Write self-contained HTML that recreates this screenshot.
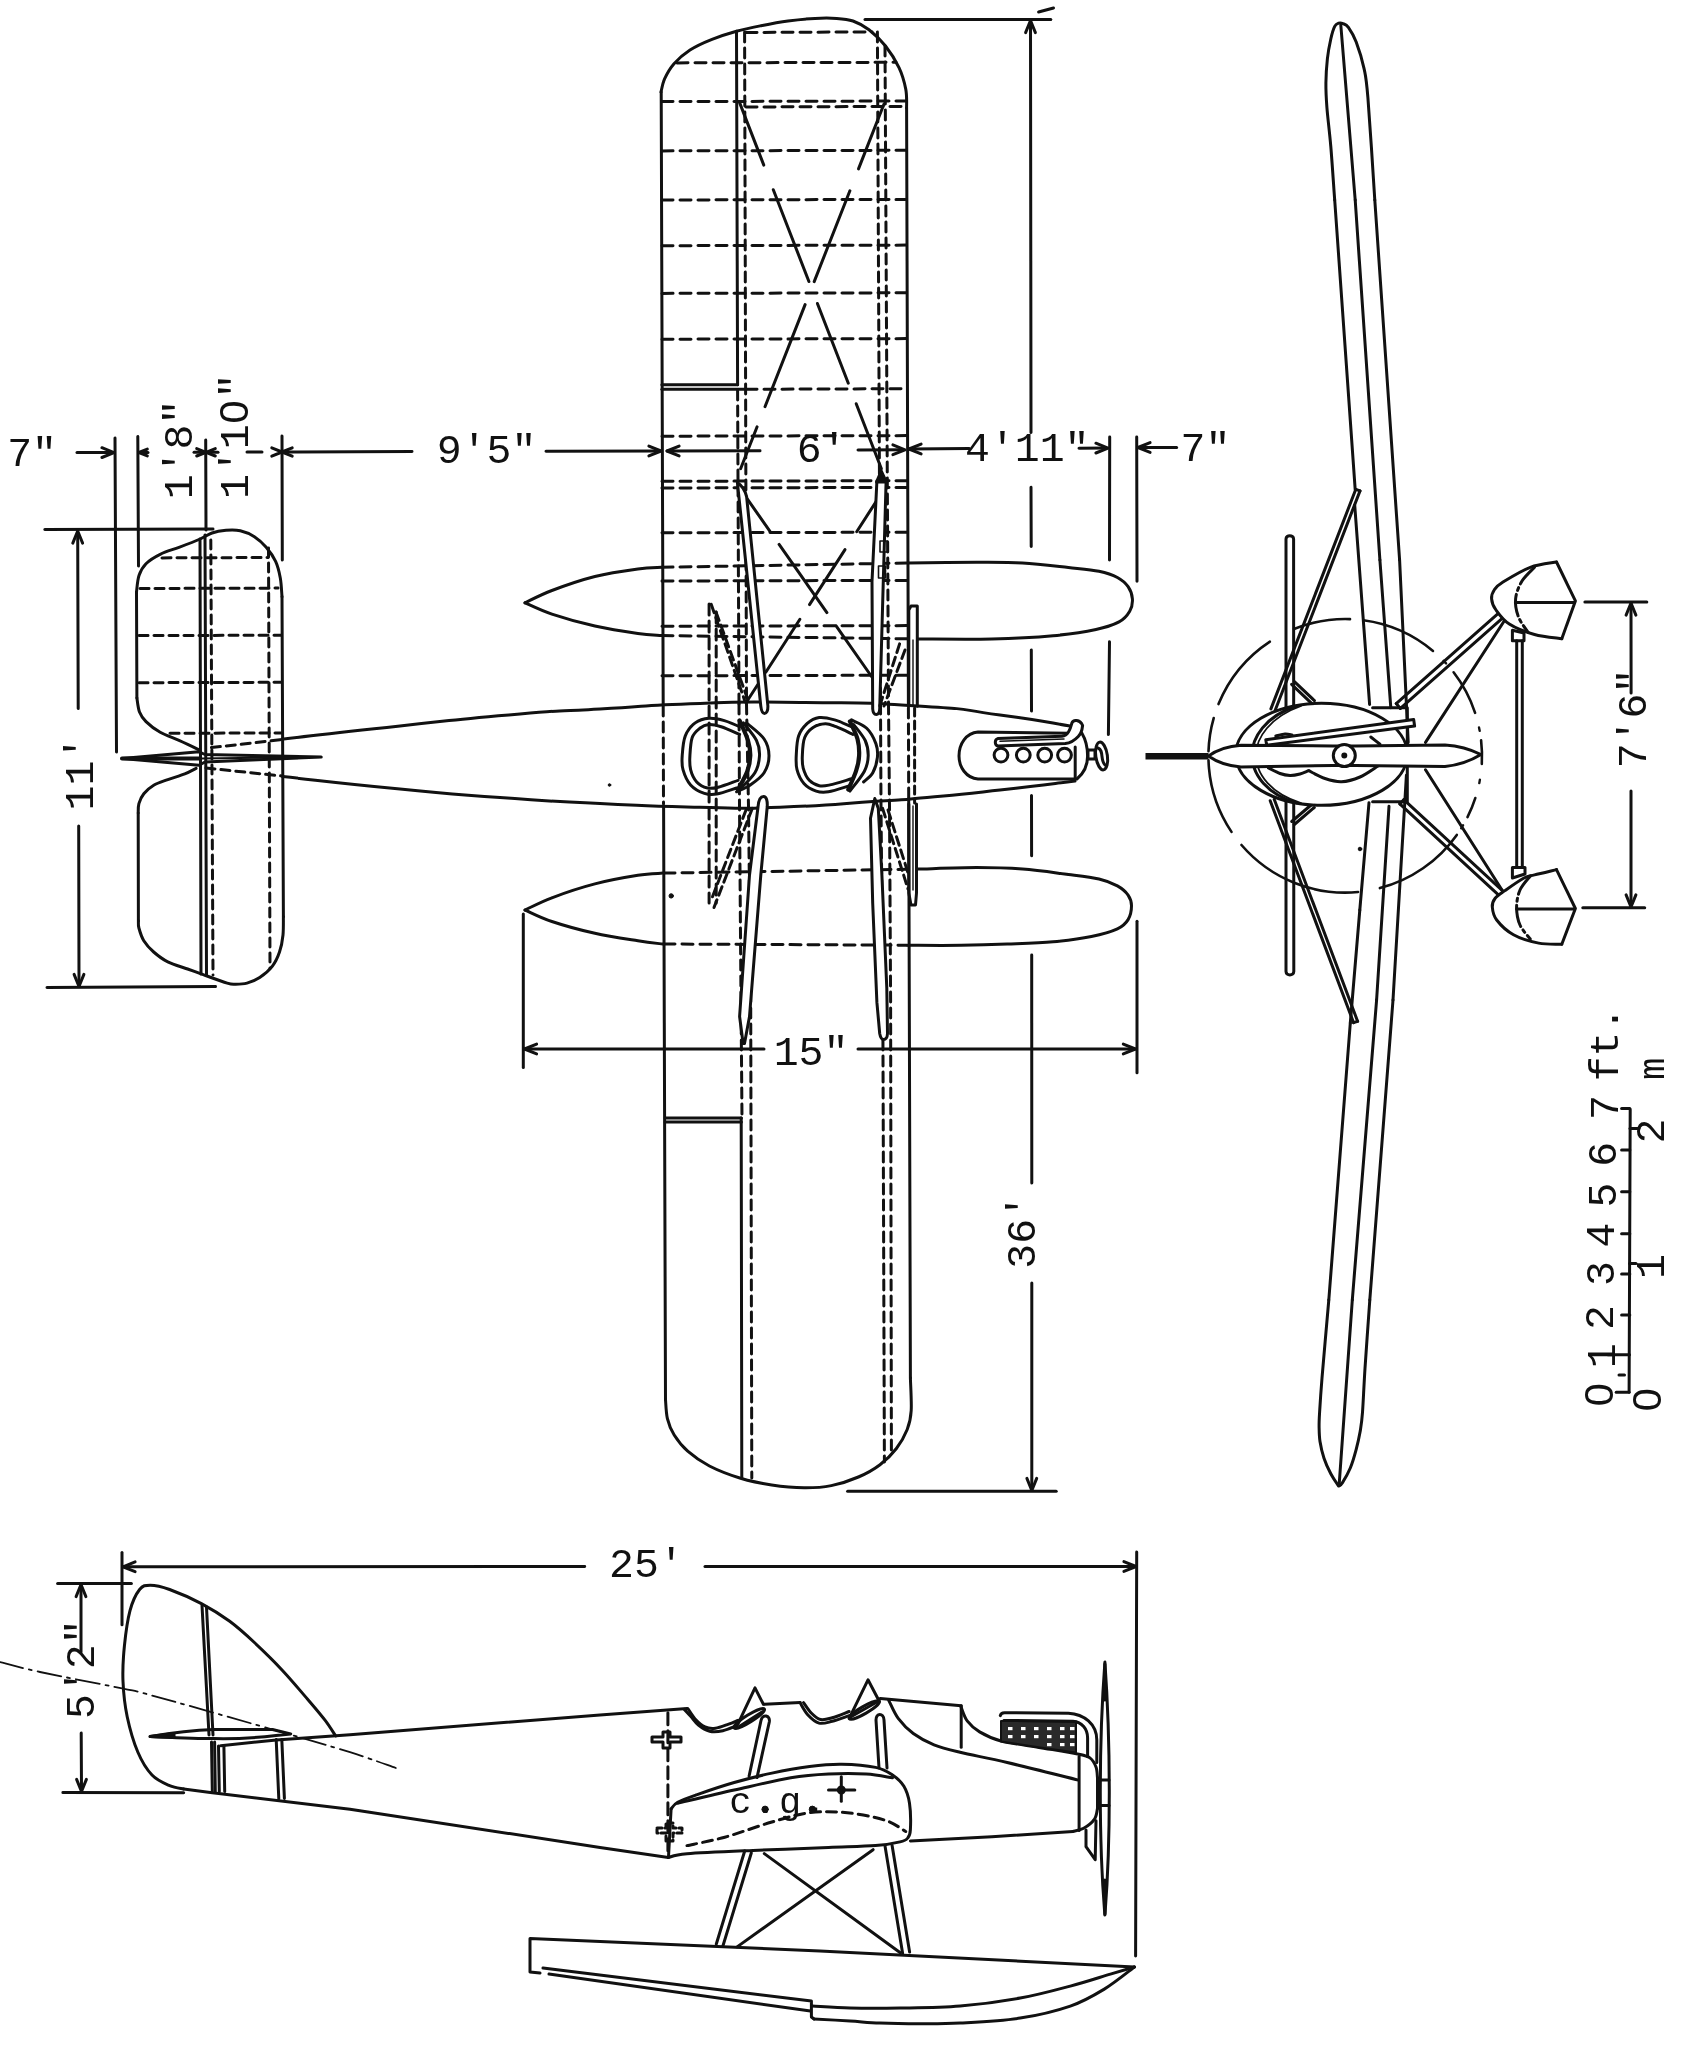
<!DOCTYPE html>
<html><head><meta charset="utf-8"><title>Seaplane three-view drawing</title>
<style>
html,body{margin:0;padding:0;background:#fff}
svg{display:block}
svg *{vector-effect:none}
.d{fill:none;stroke:#111;stroke-width:3;stroke-linecap:round;stroke-linejoin:round}
text{font-family:"Liberation Mono","DejaVu Sans Mono",monospace;fill:#111;stroke:none}
</style></head><body>
<svg width="1698" height="2048" viewBox="0 0 1698 2048">
<rect x="0" y="0" width="1698" height="2048" fill="#ffffff"/>
<g class="d" opacity="0.999">
<!-- top row dimensions -->
<text x="7.2" y="466" font-size="41.5" text-anchor="start">7&quot;</text>
<line x1="77" y1="452.6" x2="112" y2="452.6"/>
<path d="M101.9 457.5 L114 452.6 L101.9 447.7"/>
<line x1="115" y1="438" x2="116.5" y2="752"/>
<line x1="137.8" y1="436.5" x2="138.5" y2="566"/>
<path d="M147.3 449.1 L139 452.5 L147.3 455.9"/>
<line x1="139" y1="452.5" x2="148" y2="452.5"/>
<text x="192.3" y="499.3" font-size="41.5" text-anchor="start" transform="rotate(-90 192.3 499.3)">1'8&quot;</text>
<line x1="205.7" y1="440" x2="206" y2="530"/>
<path d="M196.7 456 L206 452.3 L196.7 448.6"/>
<path d="M215.3 448.6 L206 452.3 L215.3 456"/>
<line x1="194" y1="452.3" x2="218" y2="452.3"/>
<text x="248.4" y="499" font-size="41.5" text-anchor="start" transform="rotate(-90 248.4 499)">1'1<tspan font-family="Liberation Sans, sans-serif" dx="0.9" letter-spacing="1.8">0</tspan>&quot;</text>
<line x1="282" y1="436" x2="282.3" y2="560"/>
<line x1="247" y1="452" x2="262" y2="452"/>
<path d="M271.8 456.1 L282 452 L271.8 447.9"/>
<path d="M292.2 447.9 L282 452 L292.2 456.1"/>
<line x1="282" y1="452" x2="412" y2="451.6"/>
<text x="436.8" y="463" font-size="41.5" text-anchor="start">9'5&quot;</text>
<line x1="546" y1="451.3" x2="659" y2="451"/>
<path d="M648.9 455.9 L661 451 L648.9 446.1"/>
<!-- tail top view upper half -->
<path d="M199 749.8 C195.7 748.2 185.5 743.3 179 740.4 C172.5 737.5 165.7 735.3 160.2 732.2 C154.7 729.1 149.4 725 146 721.6 C142.6 718.2 141 715.9 139.5 712 C138 708.1 137.3 700.3 136.9 698"/>
<line x1="136.9" y1="698" x2="136.5" y2="592"/>
<path d="M136.5 592 C136.9 589.2 137.4 580.2 139 575.5 C140.6 570.8 142.5 567.2 146 563.7 C149.5 560.2 154.7 557 160.2 554.3 C165.7 551.6 172.3 549.8 179 547.3 C185.7 544.8 194.7 541.4 200.2 539 C205.7 536.6 207.7 534.5 212 533 C216.3 531.5 221.3 530.7 226 530.3 C230.7 529.9 235.6 529.7 240.3 530.8 C245 531.9 250.1 534 254.4 536.7 C258.7 539.5 262.7 543.2 266.2 547.3 C269.7 551.4 273.2 556.3 275.6 561.4 C278 566.5 279.2 572 280.3 577.9 C281.4 583.8 281.7 593.6 282 596.7"/>
<line x1="282" y1="596.7" x2="283.4" y2="916.7"/>
<line x1="200" y1="539" x2="201" y2="974"/>
<line x1="205" y1="535" x2="206.5" y2="975"/>
<line x1="162" y1="557.9" x2="268" y2="557.5" stroke-dasharray="9 6"/>
<line x1="140" y1="588.5" x2="278" y2="588.1" stroke-dasharray="9 6"/>
<line x1="139" y1="635.6" x2="281" y2="635.2" stroke-dasharray="9 6"/>
<line x1="139" y1="682.7" x2="281" y2="682.3" stroke-dasharray="9 6"/>
<line x1="170" y1="733.3" x2="281" y2="732.9" stroke-dasharray="9 6"/>
<line x1="210.8" y1="540" x2="213" y2="975" stroke-dasharray="9 6"/>
<line x1="268.5" y1="548" x2="270" y2="968" stroke-dasharray="9 6"/>
<line x1="44.8" y1="529.6" x2="213" y2="529"/>
<line x1="77.7" y1="533" x2="78.2" y2="708.6"/>
<path d="M82.6 543.1 L77.7 531 L72.8 543.1"/>
<text x="92.5" y="810.5" font-size="41.5" text-anchor="start" transform="rotate(-90 92.5 810.5)">11'</text>
<line x1="78.7" y1="826" x2="79" y2="985"/>
<path d="M74.1 974.4 L79 986.5 L83.9 974.4"/>
<line x1="47" y1="987.4" x2="215.5" y2="986.6"/>
<!-- tail lower half -->
<path d="M196.1 768.3 C194.2 769.2 189.5 772 184.8 773.9 C180.1 775.8 173 777.7 167.8 779.6 C162.6 781.5 157.7 782.9 153.7 785.2 C149.7 787.6 146.3 790.6 143.8 793.7 C141.3 796.8 139.8 800.4 138.9 803.6 C138 806.8 138.3 811.4 138.2 813"/>
<line x1="138.2" y1="813" x2="138.4" y2="921"/>
<path d="M138.4 921 C138.5 922.2 138 924.7 138.9 928 C139.8 931.3 141.3 936.7 143.8 940.7 C146.3 944.7 149.7 948.5 153.7 952 C157.7 955.5 162.2 959.1 167.8 961.9 C173.5 964.7 181.7 966.9 187.6 969 C193.5 971.1 196.6 972.2 203.2 974.6 C209.8 977 221.8 981.5 227.2 983.1 C232.6 984.7 232.4 984.2 235.7 984.2 C239 984.2 243 984.2 247 983.1 C251 982 255.5 980.3 259.7 977.5 C263.9 974.7 269.1 970.4 272.4 966.1 C275.7 961.9 277.7 957.2 279.5 952 C281.3 946.8 282.4 940.9 283 935 C283.6 929.1 283.3 919.8 283.4 916.7"/>
<!-- rudder top view -->
<path d="M122 758.6 L199 751.8 L205 754.5 L321.2 757.1 L205 762 L199 765.2Z"/>
<line x1="122" y1="758.6" x2="200" y2="758.4" stroke-width="4"/>
<line x1="200" y1="758.4" x2="321.2" y2="757.1" stroke-width="2"/>
<line x1="211.4" y1="747.6" x2="281.7" y2="739.6" stroke-dasharray="9 6"/>
<line x1="206" y1="768" x2="282" y2="776" stroke-dasharray="9 6"/>
<!-- fuselage top view -->
<path d="M281.7 739.3 C321.1 734.8 320.6 734.3 400 725.9 C479.4 717.5 453.3 719.6 520 714 C586.7 708.4 540 712.5 600 709 C660 705.5 633.3 705.7 700 703.5 C766.7 701.3 727.3 701.7 800 702.5 C872.7 703.3 851.3 701.8 918 706 C984.7 710.2 949.3 708.3 1000 715 C1050.7 721.7 1046.7 722.3 1070 726"/>
<path d="M282.7 776.6 C321.8 780.7 327.6 782 400 789 C472.4 796 433.3 792.7 500 797.5 C566.7 802.3 533.3 800.3 600 803.5 C666.7 806.7 640 806 700 807.2 C760 808.4 720 809.3 780 807.2 C840 805.1 831 804.2 880 801 C929 797.8 887 801.2 927 797.5 C967 793.8 950.7 795.5 1000 790 C1049.3 784.5 1050 784 1075 781"/>
<!-- main wing top view -->
<path d="M661 92 C661.6 89.8 662.5 83.3 664.7 78.6 C666.9 73.9 669.8 68.5 674 63.7 C678.2 58.9 683.7 54.1 690 50 C696.3 45.9 704.2 42.4 712 39.3 C719.8 36.2 728.3 33.5 736.5 31.2 C744.7 28.9 752.4 27.4 761 25.7 C769.6 24 779 22.2 788 21 C797 19.8 806.9 18.8 815 18.4 C823.1 18 830.4 18 836.7 18.4 C843 18.8 847.6 19.1 853 21 C858.4 22.9 863.6 25.6 869 29.8 C874.4 34 880.5 39.7 885.5 46 C890.5 52.3 895.6 60.5 899 67.7 C902.4 74.9 904.5 82.7 905.8 89.4 C907.1 96.1 906.5 104.9 906.6 108"/>
<line x1="661.2" y1="92" x2="663.2" y2="704"/>
<line x1="906.6" y1="108" x2="908.4" y2="706"/>
<line x1="663.6" y1="806" x2="665.5" y2="1399.7"/>
<line x1="908.7" y1="799" x2="910.4" y2="1378"/>
<path d="M665.5 1399.7 C665.8 1402.9 666 1412.8 667.4 1418.7 C668.8 1424.6 670.8 1429.6 674.2 1435 C677.6 1440.4 681.8 1446 687.7 1451.2 C693.6 1456.4 700.6 1461.5 709.4 1466 C718.2 1470.5 730.2 1475.1 740.6 1478.3 C751 1481.5 761.1 1483.4 771.7 1485 C782.3 1486.6 794.3 1487.7 804.2 1487.8 C814.1 1487.9 822.3 1487.4 831.3 1485.6 C840.3 1483.8 850.3 1480.5 858.4 1477 C866.5 1473.5 873.7 1469.5 880 1464.7 C886.3 1460 891.9 1454.4 896.4 1448.5 C900.9 1442.6 904.7 1435.8 907.2 1429.5 C909.7 1423.2 910.7 1419.1 911.2 1410.5 C911.7 1401.9 910.5 1383.4 910.4 1378"/>
<line x1="663.2" y1="706" x2="663.5" y2="804" stroke-dasharray="10 6"/>
<line x1="908.4" y1="708" x2="908.7" y2="798" stroke-dasharray="10 6"/>
<line x1="736.5" y1="31.2" x2="737.6" y2="384.7"/>
<line x1="661.9" y1="384.7" x2="737.6" y2="384.7"/>
<line x1="661.9" y1="389.3" x2="745" y2="389.3"/>
<line x1="665.2" y1="1117.9" x2="741.4" y2="1117.9"/>
<line x1="665.2" y1="1122" x2="741.4" y2="1122"/>
<line x1="741.2" y1="1118" x2="741.8" y2="1478.3"/>
<line x1="746" y1="32.5" x2="872" y2="31.9" stroke-dasharray="11 7"/>
<line x1="677" y1="62.9" x2="896" y2="62.3" stroke-dasharray="11 7"/>
<line x1="662" y1="101.6" x2="906.5" y2="101" stroke-dasharray="11 7"/>
<line x1="746" y1="107" x2="906.5" y2="106.4" stroke-dasharray="11 7"/>
<line x1="662" y1="150.9" x2="906.5" y2="150.3" stroke-dasharray="11 7"/>
<line x1="662" y1="200" x2="906.5" y2="199.4" stroke-dasharray="11 7"/>
<line x1="662" y1="245.7" x2="906.5" y2="245.1" stroke-dasharray="11 7"/>
<line x1="662" y1="293.4" x2="906.5" y2="292.8" stroke-dasharray="11 7"/>
<line x1="662" y1="339.2" x2="906.5" y2="338.6" stroke-dasharray="11 7"/>
<line x1="746" y1="389.3" x2="906.5" y2="388.7" stroke-dasharray="11 7"/>
<line x1="662" y1="436.2" x2="907" y2="435.6" stroke-dasharray="11 7"/>
<line x1="662" y1="481.3" x2="907" y2="480.7" stroke-dasharray="11 7"/>
<line x1="662" y1="488" x2="907" y2="487.4" stroke-dasharray="11 7"/>
<line x1="662" y1="532.8" x2="907" y2="532.2" stroke-dasharray="11 7"/>
<line x1="662" y1="581" x2="907" y2="580.4" stroke-dasharray="11 7"/>
<line x1="662" y1="626.2" x2="907" y2="625.6" stroke-dasharray="11 7"/>
<line x1="662" y1="675.8" x2="907" y2="675.2" stroke-dasharray="11 7"/>
<line x1="744.6" y1="32" x2="746.5" y2="704" stroke-dasharray="10 6"/>
<line x1="737.6" y1="390" x2="739" y2="704" stroke-dasharray="10 6"/>
<line x1="877.4" y1="32" x2="880.5" y2="704" stroke-dasharray="10 6"/>
<line x1="885" y1="46" x2="888.5" y2="704" stroke-dasharray="10 6"/>
<path d="M739 704 L739.5 806 L741 1000 L742 1118" stroke-dasharray="10 6"/>
<path d="M746.5 704 L748.5 806 L750.7 1000 L751.8 1478" stroke-dasharray="10 6"/>
<path d="M880.5 704 L881 806 L882.8 1000 L884.4 1462" stroke-dasharray="10 6"/>
<path d="M888.5 704 L889.5 806 L890.6 1000 L891.4 1452" stroke-dasharray="10 6"/>
<line x1="739.2" y1="101.6" x2="763.8" y2="165.1"/>
<line x1="773.3" y1="189.7" x2="808.9" y2="281.5"/>
<line x1="817.4" y1="303.5" x2="848.3" y2="383.2"/>
<line x1="856.2" y1="403.7" x2="881.4" y2="468.7"/>
<line x1="884" y1="104" x2="858.5" y2="168.9"/>
<line x1="849.9" y1="190.8" x2="814.2" y2="281.6"/>
<line x1="805.1" y1="304.6" x2="765" y2="406.7"/>
<line x1="757.1" y1="426.8" x2="740.6" y2="468.7"/>
<line x1="740.6" y1="489.4" x2="769.8" y2="531.1"/>
<line x1="779.1" y1="544.4" x2="826.9" y2="612.6"/>
<line x1="836.1" y1="625.9" x2="873.3" y2="679"/>
<line x1="884" y1="489.4" x2="856.7" y2="531.7"/>
<line x1="845" y1="549.6" x2="809.5" y2="604.6"/>
<line x1="799.9" y1="619.3" x2="765.8" y2="672.2"/>
<line x1="759.6" y1="681.7" x2="747.3" y2="700.7"/>
<!-- 36ft dimension -->
<line x1="865" y1="19.5" x2="1050.8" y2="19.5"/>
<line x1="1038.6" y1="12" x2="1053.5" y2="8"/>
<path d="M1035.4 32.6 L1030.5 20.5 L1025.6 32.6"/>
<line x1="1030.5" y1="21.7" x2="1031" y2="432.5"/>
<line x1="1031" y1="487.3" x2="1031.2" y2="546.6"/>
<line x1="1031.3" y1="650" x2="1031.5" y2="711"/>
<line x1="1031.5" y1="795.5" x2="1031.6" y2="855.8"/>
<line x1="1031.7" y1="955" x2="1031.8" y2="1183"/>
<text x="1034.8" y="1268.7" font-size="41.5" text-anchor="start" transform="rotate(-90 1034.8 1268.7)">36'</text>
<line x1="1031.8" y1="1283" x2="1031.8" y2="1489"/>
<path d="M1026.9 1478.4 L1031.8 1490.5 L1036.7 1478.4"/>
<line x1="847.6" y1="1491.3" x2="1056.2" y2="1491.3"/>
<!-- 6ft dims -->
<path d="M679.1 446.1 L667 451 L679.1 455.9"/>
<line x1="667" y1="451" x2="760" y2="450.7"/>
<text x="796.8" y="461.8" font-size="41.5" text-anchor="start">6'</text>
<line x1="858" y1="450" x2="903" y2="449.8"/>
<path d="M892.9 454.7 L905 449.8 L892.9 444.9"/>
<path d="M921.1 444.1 L909 449 L921.1 453.9"/>
<line x1="909" y1="449" x2="969" y2="448.4"/>
<text x="965" y="461" font-size="41.5" text-anchor="start">4'11&quot;</text>
<line x1="1079" y1="448.2" x2="1106" y2="448.1"/>
<path d="M1095.9 453 L1108 448.1 L1095.9 443.2"/>
<line x1="1109.7" y1="437" x2="1109.5" y2="559.9"/>
<line x1="1136.7" y1="437" x2="1137" y2="581.3"/>
<path d="M1150.1 442.6 L1138 447.5 L1150.1 452.4"/>
<line x1="1138" y1="447.5" x2="1176.6" y2="447.5"/>
<text x="1180.5" y="461" font-size="41.5" text-anchor="start">7&quot;</text>
<!-- floats top view -->
<path d="M908.4 562.9 C919.8 562.8 957.6 562.2 976.6 562.2 C995.6 562.2 1007.2 562 1022.5 562.9 C1037.8 563.8 1055.7 566.1 1068.4 567.5 C1081.2 568.9 1090.8 569.6 1099 571.3 C1107.2 573 1112.6 574.9 1117.4 577.5 C1122.2 580.1 1125.6 583.1 1128.1 586.7 C1130.6 590.3 1132.1 594.8 1132.4 598.9 C1132.7 603 1131.9 607.4 1129.7 611.2 C1127.5 615 1124.6 618.9 1119 621.9 C1113.4 624.9 1107 627.2 1096 629.5 C1085 631.8 1070.4 634.1 1053.1 635.7 C1035.8 637.3 1014.3 638.5 991.9 639 C969.5 639.5 930.6 639 918.4 639"/>
<path d="M661.5 567.3 C657.6 567.6 649 567.5 637.9 569 C626.8 570.5 609.2 572.9 594.9 576.5 C580.6 580.1 563.5 586.1 551.9 590.5 C540.2 594.9 529.5 600.8 525 602.8"/>
<path d="M661.5 635.6 C657.6 635.2 649 635.1 637.9 633.5 C626.8 631.9 609.2 629.2 594.9 626 C580.6 622.8 563.5 618 551.9 614.1 C540.2 610.2 529.5 604.7 525 602.8"/>
<line x1="662" y1="567.3" x2="907" y2="563" stroke-dasharray="11 7"/>
<line x1="662" y1="635.6" x2="907" y2="638.8" stroke-dasharray="11 7"/>
<path d="M525 910 C529.5 908 540.2 902.1 551.9 897.8 C563.5 893.4 580.6 887.6 594.9 883.9 C609.2 880.1 626.6 877.1 637.9 875.3 C649.2 873.5 658.5 873.5 662.6 873.1"/>
<path d="M525 910 C529.5 911.9 540.2 917.6 551.9 921.5 C563.5 925.4 580.6 930.1 594.9 933.3 C609.2 936.5 626.6 939 637.9 940.8 C649.2 942.6 658.5 943.5 662.6 944"/>
<line x1="664" y1="873.1" x2="907" y2="869.3" stroke-dasharray="11 7"/>
<line x1="664" y1="944" x2="907" y2="945.2" stroke-dasharray="11 7"/>
<path d="M917.6 869.1 C927.4 868.9 959.1 867.6 976.6 867.6 C994.1 867.6 1007.2 868 1022.5 869.1 C1037.8 870.2 1055.7 872.9 1068.4 874.5 C1081.2 876.1 1090.8 877.1 1099 879 C1107.2 880.9 1112.6 883.2 1117.4 885.9 C1122.2 888.6 1125.8 891.8 1128.1 895.1 C1130.4 898.4 1131.5 901.7 1131.5 905.8 C1131.5 909.9 1130.4 915.8 1128.1 919.6 C1125.8 923.4 1123.5 926 1117.4 928.8 C1111.3 931.6 1102.1 934.3 1091.4 936.5 C1080.7 938.7 1067.1 940.5 1053.1 941.8 C1039.1 943.1 1022.5 943.5 1007.2 944.1 C991.9 944.7 977.8 945.1 961.2 945.3 C944.6 945.5 916.6 945.3 907.7 945.3"/>
<!-- 15in dim -->
<line x1="523.3" y1="914" x2="523.3" y2="1067.6"/>
<line x1="1137" y1="921.2" x2="1137" y2="1072.7"/>
<path d="M536.6 1044.1 L524.5 1049 L536.6 1053.9"/>
<path d="M1123.3 1053.9 L1135.4 1049 L1123.3 1044.1"/>
<line x1="524.5" y1="1049" x2="764" y2="1049"/>
<text x="773.7" y="1064.8" font-size="41.5" text-anchor="start">15&quot;</text>
<line x1="858" y1="1049" x2="1135" y2="1049"/>
<!-- dust specks -->
<circle cx="671.2" cy="895.9" r="2.2" stroke-width="1" fill="#111"/>
<circle cx="609.5" cy="785" r="1.3" stroke-width="1" fill="#111"/>
<circle cx="1360" cy="849" r="1.8" stroke-width="1" fill="#111"/>
<!-- front view -->
<line x1="1355.2" y1="489.6" x2="1334.7" y2="200"/>
<path d="M1334.7 200 C1334 191.1 1332.1 161.9 1330.8 146.5 C1329.5 131.1 1327.7 118 1326.9 107.4 C1326.1 96.8 1325.8 91.1 1325.9 83 C1326 74.9 1326.6 65.9 1327.4 58.6 C1328.2 51.3 1329.6 44.4 1330.8 39 C1332 33.6 1333.4 29 1334.7 26.4 C1336 23.8 1337.2 23.7 1338.6 23.2 C1340 22.7 1341.4 22.9 1343 23.6 C1344.6 24.3 1346.2 24.2 1348.4 27.3 C1350.6 30.4 1353.6 35.1 1356.2 42 C1358.8 48.9 1362 59.1 1364 68.4 C1366 77.7 1366.1 75.8 1367.9 97.7 C1369.7 119.6 1373.7 182.9 1374.8 200"/>
<line x1="1374.8" y1="200" x2="1399.6" y2="560"/>
<line x1="1340.8" y1="25" x2="1355.2" y2="200"/>
<line x1="1355.2" y1="200" x2="1379.9" y2="560"/>
<line x1="1354.7" y1="505" x2="1369.6" y2="704.5"/>
<line x1="1379.9" y1="560" x2="1390.8" y2="707.7"/>
<line x1="1399.6" y1="560" x2="1408.2" y2="742.4"/>
<line x1="1369" y1="802.7" x2="1359.8" y2="910"/>
<line x1="1359.8" y1="910" x2="1350.3" y2="1023"/>
<line x1="1389" y1="806.3" x2="1376.6" y2="1000"/>
<line x1="1406.4" y1="775.3" x2="1393" y2="1000"/>
<line x1="1350.3" y1="1023" x2="1328.8" y2="1300"/>
<path d="M1328.8 1300 C1327.7 1313 1323.5 1359.4 1322 1378.1 C1320.5 1396.8 1320.1 1404.1 1319.6 1412.3 C1319.1 1420.5 1319 1422.1 1319.1 1427 C1319.2 1431.9 1319.2 1436.4 1320 1441.6 C1320.8 1446.8 1322.2 1452.8 1324 1458.2 C1325.8 1463.6 1328.5 1469.4 1330.8 1473.8 C1333.1 1478.2 1336.2 1482.6 1337.6 1484.6 C1339 1486.6 1338.3 1486.1 1339.1 1485.8 C1339.9 1485.5 1340.6 1485.6 1342.5 1482.6 C1344.4 1479.6 1348 1473.5 1350.3 1468 C1352.6 1462.5 1354.6 1455.4 1356.2 1449.4 C1357.8 1443.4 1359 1438 1360.1 1431.8 C1361.1 1425.6 1361.7 1422.9 1362.5 1412.3 C1363.3 1401.7 1363.8 1387.1 1365 1368.4 C1366.2 1349.7 1369 1311.4 1369.8 1300"/>
<line x1="1369.8" y1="1300" x2="1393" y2="1000"/>
<line x1="1376.6" y1="1000" x2="1352.3" y2="1300"/>
<line x1="1352.3" y1="1300" x2="1339.1" y2="1485.5"/>
<path d="M1372.6 707.7 L1407.3 707.7 L1407.3 801.8 L1372.6 801.8"/>
<line x1="1355.8" y1="489.3" x2="1270.9" y2="708.9"/>
<line x1="1360" y1="490.9" x2="1275.1" y2="710.5"/>
<line x1="1355.8" y1="489.3" x2="1360" y2="490.9"/>
<line x1="1270.2" y1="800.7" x2="1353.6" y2="1022.7"/>
<line x1="1274.2" y1="799.3" x2="1357.6" y2="1021.3"/>
<line x1="1353.6" y1="1022.7" x2="1357.6" y2="1021.3"/>
<path d="M1286 971.5 L1286 539 C1286 534.5 1293.6 534.5 1293.6 539 L1293.8 971.5 C1293.8 976 1286 976 1286 971.5Z"/>
<line x1="1291.6" y1="684.4" x2="1311.6" y2="703.4"/>
<line x1="1294.4" y1="681.6" x2="1314.4" y2="700.6"/>
<line x1="1294.3" y1="824.5" x2="1314.3" y2="807.5"/>
<line x1="1291.7" y1="821.5" x2="1311.7" y2="804.5"/>
<path d="M1218.5 704.1 A136.8 136.8 0 0 1 1269.9 641.6" stroke-width="2.6"/>
<path d="M1294 629 A136.8 136.8 0 0 1 1350 619.1" stroke-width="2.6"/>
<path d="M1363.5 620.2 A136.8 136.8 0 0 1 1433 650.9" stroke-width="2.6"/>
<path d="M1453.6 672.3 A136.8 136.8 0 0 1 1475.1 712.8" stroke-width="2.6"/>
<path d="M1481.1 740.3 A136.8 136.8 0 0 1 1481.8 763.9" stroke-width="2.6"/>
<path d="M1475.3 798.1 A136.8 136.8 0 0 1 1467.5 817.1" stroke-width="2.6"/>
<path d="M1456.8 834.9 A136.8 136.8 0 0 1 1379.9 888.1" stroke-width="2.6"/>
<path d="M1358.1 892 A136.8 136.8 0 0 1 1241.5 845" stroke-width="2.6"/>
<path d="M1231.5 831.9 A136.8 136.8 0 0 1 1208.5 760.3" stroke-width="2.6"/>
<path d="M1208.5 751.3 A136.8 136.8 0 0 1 1213.7 718.1" stroke-width="2.6"/>
<path d="M1443.6 660.8 A136.8 136.8 0 0 1 1446.1 663.4" stroke-width="2.4"/>
<path d="M1479 727.4 A136.8 136.8 0 0 1 1479.7 730.9" stroke-width="2.4"/>
<path d="M1479.9 779.6 A136.8 136.8 0 0 1 1479.3 783.1" stroke-width="2.4"/>
<path d="M1463.1 825.2 A136.8 136.8 0 0 1 1461.2 828.3" stroke-width="2.4"/>
<ellipse cx="1321.5" cy="754.3" rx="85.8" ry="51" fill="#fff"/>
<path d="M1297 706 C1265 716 1252 738 1252 755 C1252 775 1268 795 1297 803"/>
<path d="M1301 706 C1270 717 1256 738 1256 755 C1256 775 1272 794 1301 803" stroke-width="1.8"/>
<path d="M1265.8 739.7 L1413.7 719.6 L1414.6 726 L1266.7 745.2Z" fill="#fff"/>
<path d="M1268.5 768 C1270.4 768.9 1276.4 772.2 1280 773.5 C1283.6 774.8 1286.7 775.4 1290 775.5 C1293.3 775.6 1296.9 774.8 1300 774 C1303.1 773.2 1307.2 771.2 1308.7 770.7"/>
<path d="M1308.7 770.7 C1311.4 772 1319.5 776.7 1325 778.5 C1330.5 780.3 1335.7 782 1341.5 781.7 C1347.3 781.5 1353.9 779.6 1360 777 C1366.1 774.4 1375 767.8 1378 766"/>
<path d="M1275.8 736 C1277.3 735.7 1282.3 734.2 1285 734 C1287.7 733.8 1290.8 734.8 1292 735"/>
<path d="M1370.8 737 C1372.3 738.2 1378.5 743 1380 744.2"/>
<path d="M1208.3 756.1 C1216 750.5 1226 746.2 1241 745.2 L1333 745.9 L1355.5 745.9 L1445 745 C1460 746 1472 750 1481 754.5 C1472 760 1460 765 1445 766.5 L1355.5 765.5 L1333 765.5 L1241 767 C1226 766 1216 761.5 1208.3 756.1Z" fill="#fff"/>
<circle cx="1344.3" cy="755.6" r="11" fill="#fff"/>
<circle cx="1344.3" cy="755.6" r="1.5" fill="#111"/>
<line x1="1145.5" y1="756.3" x2="1208.5" y2="756.3" stroke-width="6.4" stroke-linecap="butt"/>
<line x1="1400.4" y1="708.4" x2="1505.6" y2="615.4"/>
<line x1="1396.2" y1="703.6" x2="1501.4" y2="610.6"/>
<line x1="1400.4" y1="708.4" x2="1396.2" y2="703.6"/>
<line x1="1505.6" y1="615.4" x2="1501.4" y2="610.6"/>
<line x1="1425.5" y1="742.4" x2="1505" y2="619.8"/>
<line x1="1399.8" y1="803.9" x2="1505.2" y2="901.1"/>
<line x1="1403.8" y1="799.7" x2="1509.2" y2="896.9"/>
<line x1="1399.8" y1="803.9" x2="1403.8" y2="799.7"/>
<line x1="1505.2" y1="901.1" x2="1509.2" y2="896.9"/>
<line x1="1425.5" y1="769.8" x2="1505" y2="894.8"/>
<line x1="1516.7" y1="640.8" x2="1516.7" y2="867.5"/>
<line x1="1522.3" y1="640.8" x2="1522.3" y2="867.5"/>
<path d="M1512.4 640.8 L1512.4 630.3 L1524 633 L1524 640.8Z"/>
<path d="M1512.4 867.5 L1512.4 878 L1525 874 L1525 867.5Z"/>
<path d="M1561.8 638.7 C1557.2 638 1543.2 637 1534.5 634.5 C1525.8 632 1515.7 628.1 1509.3 624 C1502.9 619.9 1499 614.2 1496 610 C1493 605.8 1491.8 602.2 1491.6 598.8 C1491.3 595.4 1492.6 592.3 1494.5 589.5 C1496.4 586.7 1497 585.7 1503 582 C1509 578.3 1521.4 570.6 1530.3 567.3 C1539.2 564 1552.1 562.9 1556.5 562" fill="#fff"/>
<path d="M1556.5 562 L1575.4 600.9 L1561.8 638.7"/>
<path d="M1534.5 567.3 C1532.4 569.6 1525.2 575.8 1522 581 C1518.8 586.2 1516.2 592.8 1515.6 598.8 C1515 604.8 1516.4 611.4 1518.5 617 C1520.6 622.6 1526.6 629.8 1528.2 632.4" stroke-dasharray="22 4 3 4"/>
<line x1="1515.6" y1="602.6" x2="1574.4" y2="602.6"/>
<path d="M1556.5 869.6 C1552.8 870.5 1539.9 873.5 1534.5 874.9 C1529.1 876.3 1528.9 875.4 1524 878 C1519.1 880.6 1509.8 887.2 1505 890.6 C1500.2 894 1497.1 895.8 1495 898.5 C1492.9 901.2 1492 903.4 1492.3 907 C1492.6 910.6 1493.2 915.4 1496.7 920 C1500.2 924.6 1506.5 930.9 1513.5 934.7 C1520.5 938.6 1530.7 941.5 1538.7 943.1 C1546.8 944.7 1558 944 1561.8 944.2" fill="#fff"/>
<path d="M1556.5 869.6 L1575.4 908.5 L1561.8 944.2"/>
<path d="M1530.3 876 C1528.6 878.3 1522.3 884.8 1520 890 C1517.7 895.2 1516.6 901.6 1516.6 907.4 C1516.6 913.2 1517.7 919.7 1520 925 C1522.3 930.3 1528.6 936.7 1530.3 939" stroke-dasharray="22 4 3 4"/>
<line x1="1516.6" y1="908.9" x2="1574.4" y2="908.9"/>
<line x1="1584.9" y1="602" x2="1646.8" y2="602"/>
<line x1="1582.8" y1="907.8" x2="1644.7" y2="907.8"/>
<path d="M1635.9 615.1 L1631 603 L1626.1 615.1"/>
<line x1="1631" y1="604" x2="1631.1" y2="693"/>
<text x="1645.7" y="768.2" font-size="41.5" text-anchor="start" transform="rotate(-90 1645.7 768.2)">7'6&quot;</text>
<line x1="1631" y1="790.9" x2="1631" y2="906"/>
<path d="M1626.1 894.9 L1631 907 L1635.9 894.9"/>
<!-- scale bar -->
<line x1="1630.2" y1="1109.6" x2="1629.1" y2="1392.3"/>
<line x1="1616.2" y1="1392.3" x2="1629.1" y2="1392.3"/>
<text x="1613" y="1407.2" font-size="41.5" text-anchor="start" transform="rotate(-90 1613 1407.2)"><tspan font-family="Liberation Sans, sans-serif" dx="0.9" letter-spacing="1.8">0</tspan></text>
<text x="1615.1" y="1368.2" font-size="41.5" text-anchor="start" transform="rotate(-90 1615.1 1368.2)">1</text>
<line x1="1608" y1="1354.7" x2="1629.5" y2="1354.7"/>
<text x="1612.5" y="1330" font-size="41.5" text-anchor="start" transform="rotate(-90 1612.5 1330)">2</text>
<line x1="1621.6" y1="1315" x2="1629.8" y2="1315"/>
<text x="1614" y="1286" font-size="41.5" text-anchor="start" transform="rotate(-90 1614 1286)">3</text>
<line x1="1621.6" y1="1274.1" x2="1629.8" y2="1274.1"/>
<text x="1614.5" y="1247.4" font-size="41.5" text-anchor="start" transform="rotate(-90 1614.5 1247.4)">4</text>
<line x1="1621.6" y1="1233.8" x2="1629.8" y2="1233.8"/>
<text x="1616.2" y="1207.5" font-size="41.5" text-anchor="start" transform="rotate(-90 1616.2 1207.5)">5</text>
<line x1="1621.6" y1="1191.8" x2="1629.8" y2="1191.8"/>
<text x="1616.5" y="1166.7" font-size="41.5" text-anchor="start" transform="rotate(-90 1616.5 1166.7)">6</text>
<line x1="1621.6" y1="1149.9" x2="1629.8" y2="1149.9"/>
<text x="1618.3" y="1119.9" font-size="41.5" text-anchor="start" transform="rotate(-90 1618.3 1119.9)">7</text>
<line x1="1621.6" y1="1108.5" x2="1629.8" y2="1108.5"/>
<line x1="1619" y1="1375.1" x2="1624.5" y2="1375.1"/>
<text x="1617.8" y="1081.3" font-size="41.5" text-anchor="start" transform="rotate(-90 1617.8 1081.3)">ft.</text>
<text x="1661.3" y="1412.2" font-size="41.5" text-anchor="start" transform="rotate(-90 1661.3 1412.2)"><tspan font-family="Liberation Sans, sans-serif" dx="0.9" letter-spacing="1.8">0</tspan></text>
<text x="1664" y="1279" font-size="41.5" text-anchor="start" transform="rotate(-90 1664 1279)">1</text>
<text x="1663.5" y="1143.5" font-size="41.5" text-anchor="start" transform="rotate(-90 1663.5 1143.5)">2</text>
<text x="1664" y="1080" font-size="37.5" text-anchor="start" transform="rotate(-90 1664 1080)">m</text>
<line x1="1629.6" y1="1263.4" x2="1636" y2="1263.4"/>
<line x1="1630" y1="1128.4" x2="1639" y2="1128.4"/>
<!-- top view details: struts -->
<path d="M737.4 482.5 L760.8 706.2 C761.5 712 763 713.5 764.5 713.5 C766.5 713.5 768 711 767.9 706.2 L746.6 496.6 C745 490 741 485 737.4 482.5Z" fill="#fff"/>
<path d="M876.9 481 L872 581.6 L872.7 709 C873 713 874.5 714.5 876.2 714.5 C878.3 714.5 879.5 712.5 879.7 709 L886.1 481 Z" fill="#fff"/>
<path d="M876.5 482 L881.2 471 L886.3 482Z" fill="#111"/>
<rect x="880" y="541" width="7.5" height="11" fill="none" stroke-width="1.6"/>
<rect x="878.5" y="566" width="7" height="12" fill="none" stroke-width="1.6"/>
<path d="M758 807 C758.5 800 760.5 796.4 763.6 796.4 C766.5 796.4 767.6 801 767.2 807 L760.8 875 L749.5 1016.5 L744.5 1043.5 L743.1 1043.5 L739.6 1016.5 L749.5 875 Z" fill="#fff"/>
<path d="M874.8 798.5 L870.5 818.3 L872.7 903.3 L876.9 1002.4 L879.7 1033.5 C880.5 1038 882 1039.5 883.5 1039.5 C885.8 1039.5 887.3 1037.5 887.5 1033.5 L886.8 988.2 L881.9 875 L878.3 808.4 Z" fill="#fff"/>
<!-- hidden float struts -->
<line x1="711.2" y1="604.2" x2="745.2" y2="702" stroke-width="3" stroke-dasharray="9 5"/>
<line x1="716" y1="612" x2="748" y2="700" stroke-dasharray="9 5"/>
<line x1="709.1" y1="604" x2="709.1" y2="903" stroke-dasharray="11 6"/>
<line x1="716.2" y1="612" x2="716.2" y2="903" stroke-dasharray="11 6"/>
<line x1="752.3" y1="808.4" x2="714" y2="907.5" stroke-width="3" stroke-dasharray="9 5"/>
<line x1="746" y1="810" x2="712" y2="898" stroke-dasharray="9 5"/>
<line x1="899.6" y1="643.9" x2="879.7" y2="706.2" stroke-width="3" stroke-dasharray="9 5"/>
<line x1="905" y1="650" x2="884" y2="706" stroke-dasharray="9 5"/>
<line x1="882.6" y1="808.4" x2="908" y2="889" stroke-width="3" stroke-dasharray="9 5"/>
<line x1="888" y1="810" x2="909" y2="876" stroke-dasharray="9 5"/>
<!-- pitot -->
<path d="M908.8 706.2 L908.8 610 L911 606 L917.3 606 L917.3 706.2"/>
<line x1="913" y1="640" x2="913" y2="706" stroke-width="1.4"/>
<path d="M908.8 804 L908.8 893 L911 905 L915.5 905 L916.5 893 L916.5 804"/>
<line x1="913" y1="806" x2="913" y2="890" stroke-width="1.4"/>
<line x1="914.6" y1="708" x2="914.6" y2="803" stroke-dasharray="8 5"/>
<!-- cockpits -->
<path d="M736.6 788 C733.3 789 722.1 793.2 716.7 794.1 C711.3 795 708.8 794.9 704.4 793.4 C700 791.9 694.2 788.9 690.6 784.9 C687 780.9 684.4 774.5 683 769.6 C681.6 764.8 681.8 761.4 682.2 755.8 C682.6 750.2 683.1 741.4 685.3 735.9 C687.5 730.4 691.2 725.8 695.2 722.9 C699.2 720 704.1 718.7 709 718.3 C713.9 717.9 719.2 719.2 724.3 720.6 C729.4 722 737 725.7 739.6 726.7"/>
<path d="M738.1 780.3 C734.8 781.4 723.3 785.9 718.2 787.2 C713.1 788.5 711.1 788.9 707.5 788 C703.9 787.1 699.5 785 696.7 781.9 C693.9 778.8 691.7 774 690.6 769.6 C689.5 765.2 689.6 761.1 689.9 755.8 C690.2 750.4 690.6 742.1 692.2 737.5 C693.9 732.9 697 730.5 699.8 728.3 C702.6 726.1 705.4 724.8 709 724.5 C712.6 724.2 716.1 725.1 721.2 726.7 C726.3 728.4 736.5 733.1 739.6 734.4"/>
<path d="M739.6 720.6 C741 723.9 746.2 734.6 748 740.5 C749.8 746.4 750.4 750.7 750.3 755.8 C750.2 760.9 749.3 765.6 747.3 771.2 C745.3 776.8 739.6 786.5 738.1 789.5" stroke-width="4.2"/>
<path d="M743.4 722.9 C745.6 725.8 753.8 735 756.5 740.5 C759.2 746 759.8 750.4 759.5 755.8 C759.2 761.2 758.2 767.1 754.9 772.7 C751.6 778.3 742.1 786.7 739.6 789.5"/>
<path d="M746.5 722.9 C749.4 725.6 760.4 733.5 764.1 739 C767.9 744.5 769 750.2 769 755.8 C769 761.4 767.2 767.9 764.1 772.7 C761 777.6 754.9 781.7 750.3 784.9 C745.7 788.1 738.9 790.6 736.6 791.8"/>
<path d="M849.9 785.7 C846.3 786.7 834 790.9 828.4 791.8 C822.8 792.7 820.3 792.5 816.2 791.1 C812.1 789.7 807.1 787 803.9 783.4 C800.7 779.8 798.3 774.5 797 769.6 C795.7 764.8 796 759.9 796.3 754.3 C796.6 748.7 796.8 741 798.6 735.9 C800.4 730.8 803.6 726.8 807 723.7 C810.4 720.7 814.6 718.2 819.2 717.6 C823.8 717 829.2 718.4 834.6 719.9 C840 721.4 848.6 725.6 851.4 726.7"/>
<path d="M851.4 778.8 C847.8 779.8 835.4 783.8 830 784.9 C824.6 786 822.7 786.5 819.2 785.7 C815.8 784.9 812 783.2 809.3 780.3 C806.6 777.4 804.4 772.4 803.2 768.1 C802.1 763.8 802.1 759.4 802.4 754.3 C802.6 749.2 802.9 742 804.7 737.5 C806.5 733 809.7 729.8 813.1 727.5 C816.5 725.2 821.6 723.8 825.4 723.7 C829.2 723.6 831.5 724.9 836.1 726.7 C840.7 728.5 850.1 733.1 852.9 734.4"/>
<path d="M849.9 721.4 C851.2 724.3 856 733.3 857.5 739 C859 744.7 859.4 750.4 859.1 755.8 C858.9 761.2 857.8 765.6 856 771.2 C854.2 776.8 849.6 786.5 848.3 789.5" stroke-width="4.2"/>
<path d="M853.7 724.5 C855.6 727.2 862.8 735.3 865.2 740.5 C867.6 745.7 868.3 750.7 868.2 755.8 C868.1 760.9 867.5 765.3 864.4 771.2 C861.3 777.1 852.3 787.8 849.9 791.1"/>
<path d="M851.4 719.9 C854 721.3 862.6 724.3 866.7 728.3 C870.8 732.2 874.1 738.8 875.9 743.6 C877.7 748.5 877.9 752.5 877.4 757.4 C876.9 762.2 875.1 768.6 872.8 772.7 C870.5 776.8 865.1 780.4 863.6 781.9"/>
<!-- engine top view -->
<path d="M978 732 L1068.6 733.2 L1081.8 732.9 C1086 740 1087.6 748 1087.6 756 C1087.6 766 1083 774 1076.9 779 L978 779 C966 778 959 767 959 756 C959 744 966 733 978 732Z"/>
<line x1="1075.2" y1="746.9" x2="1075.2" y2="777.4"/>
<circle cx="1001" cy="755.1" r="6.9"/>
<circle cx="1023.3" cy="755.1" r="6.9"/>
<circle cx="1044.7" cy="755.1" r="6.9"/>
<circle cx="1064.5" cy="755.1" r="6.9"/>
<path d="M997.7 738.6 L1062 736.2 C1068 735.5 1070 730 1071.9 723 C1073 719.5 1080 719 1082.6 725.5 C1082 731 1081 734 1078.5 736.2 C1074 741 1070 743 1065.3 743.6 L997.7 746 C994.5 745 994.5 739.5 997.7 738.6Z" fill="#fff"/>
<line x1="1000" y1="741.2" x2="1064" y2="739" stroke-width="1.5"/>
<rect x="1088" y="750" width="7" height="9"/>
<ellipse cx="1101.6" cy="756" rx="5.8" ry="14" transform="rotate(-8 1101.6 756)"/>
<path d="M1098 748 C1104 750 1100 760 1105 765" />
<line x1="1109.5" y1="641.8" x2="1108.4" y2="734.5"/>
<!-- side view -->
<line x1="122" y1="1552.4" x2="122" y2="1624.8"/>
<path d="M135.1 1561.9 L123 1566.8 L135.1 1571.7"/>
<line x1="123" y1="1566.8" x2="584.7" y2="1566.5"/>
<text x="609" y="1577" font-size="41.5" text-anchor="start">25'</text>
<line x1="705" y1="1566.5" x2="1135" y2="1566.5"/>
<path d="M1123.9 1571.4 L1136 1566.5 L1123.9 1561.6"/>
<line x1="1136.7" y1="1552" x2="1135.6" y2="1956"/>
<line x1="57.6" y1="1583.5" x2="131.4" y2="1583.5"/>
<line x1="62.9" y1="1792.4" x2="183.7" y2="1792.8"/>
<path d="M85.9 1596.6 L81 1584.5 L76.1 1596.6"/>
<line x1="81" y1="1586" x2="81" y2="1652"/>
<text x="93.9" y="1719" font-size="41.5" text-anchor="start" transform="rotate(-90 93.9 1719)">5'2&quot;</text>
<line x1="81.2" y1="1733" x2="81.5" y2="1790"/>
<path d="M76.6 1779.4 L81.5 1791.5 L86.4 1779.4"/>
<path d="M183.7 1789 C181.3 1788.4 174.9 1787.9 169.6 1785.6 C164.3 1783.3 157.3 1780.6 152 1775 C146.7 1769.4 141.9 1761.7 137.8 1752 C133.7 1742.3 129.7 1728.5 127.2 1716.7 C124.7 1704.9 123.5 1693.1 123 1681.3 C122.5 1669.5 123.2 1657.8 124.4 1646 C125.6 1634.2 127.5 1620.1 130 1610.7 C132.5 1601.3 136.2 1593.8 139.6 1589.5 C143 1585.2 145.2 1585.2 150.2 1585.2 C155.2 1585.2 161.1 1586.4 169.6 1589.5 C178.1 1592.6 191.4 1598.3 201.4 1603.6 C211.4 1608.9 220.9 1614.8 229.7 1621.3 C238.5 1627.8 245.6 1634.3 254.4 1642.5 C263.2 1650.7 273.9 1661.3 282.7 1670.7 C291.5 1680.1 300.3 1690.8 307.4 1699 C314.4 1707.2 320.3 1714 325 1720.2 C329.7 1726.4 333.9 1733.4 335.7 1736"/>
<line x1="202" y1="1605.4" x2="209" y2="1735"/>
<line x1="206.5" y1="1607" x2="213" y2="1735"/>
<path d="M220.7 1745.7 L276.4 1739.9 L350 1734.7 L600 1715 L687.1 1708.6"/>
<path d="M183.7 1789 L210.3 1792.4 L350 1809.2 L600 1847.4 L668.3 1857.5"/>
<path d="M150.1 1736.6 C170 1733 195 1730 214.2 1729.5 L272.5 1729.5 L290.7 1734 L276 1735.5 C250 1738.5 230 1739 214 1738.6 C195 1738.5 175 1737.6 150.1 1736.6Z"/>
<path d="M150.1 1736.6 L174 1733.4 L174 1737.4Z" fill="#111"/>
<line x1="218.5" y1="1746" x2="219.3" y2="1791.5"/>
<line x1="223.9" y1="1746" x2="224.7" y2="1791.5"/>
<line x1="276.2" y1="1739.6" x2="278.8" y2="1798.6"/>
<line x1="281.8" y1="1739.4" x2="284.4" y2="1798.4"/>
<line x1="211.5" y1="1742" x2="212.3" y2="1791"/>
<line x1="214.6" y1="1742" x2="215.3" y2="1791.5"/>
<path d="M0 1662 C6.7 1663.7 19.7 1667.6 40 1672 C60.3 1676.4 103.3 1684.5 122 1688.4 C140.7 1692.3 126.9 1688.7 152 1695.5 C177.1 1702.3 239.5 1720 272.5 1729.5 C305.5 1739 329.4 1745.8 350 1752.2 C370.6 1758.6 388.2 1765.4 395.8 1768" stroke-width="1.8" stroke-dasharray="24 6 3 6"/>
<path d="M684.3 1709.4 C685.4 1710.6 688.5 1713.9 690.9 1716.5 C693.2 1719.1 695.3 1722.5 698.4 1725 C701.5 1727.5 705.6 1730.2 709.7 1731.2 C713.8 1732.2 718.5 1731.6 722.9 1730.7 C727.3 1729.8 733.9 1726.8 736.1 1726"/>
<path d="M688 1708.8 C689.3 1710.6 692.8 1716.4 695.6 1719.4 C698.4 1722.4 701.7 1725.4 705 1726.9 C708.3 1728.4 711.5 1728.7 715.4 1728.2 C719.3 1727.7 724.8 1725.4 728.6 1724.1 C732.4 1722.8 736.4 1720.9 738 1720.3"/>
<path d="M736.1 1727.8 L755 1687.9 L763.4 1704.3"/>
<ellipse cx="749.3" cy="1718.4" rx="17.8" ry="3.6" transform="rotate(-32 749.3 1718.4)"/>
<line x1="740" y1="1726" x2="762" y2="1712"/>
<line x1="764.4" y1="1704.3" x2="800.2" y2="1702.4"/>
<path d="M800.2 1703 C801.5 1705 804.6 1711.4 807.7 1714.7 C810.8 1718 814.9 1722 819 1723.1 C823.1 1724.2 827.2 1722.5 832.2 1721.3 C837.2 1720 846.4 1716.5 849.2 1715.6"/>
<path d="M803.5 1702.6 C804.8 1704.3 808.2 1709.9 811 1712.7 C813.8 1715.5 817 1718.7 820.5 1719.5 C824 1720.3 827.4 1719.1 832.2 1717.8 C837 1716.5 846.4 1712.5 849.2 1711.5"/>
<path d="M849.2 1718.4 L868 1679.8 L879.4 1701.5"/>
<ellipse cx="864.3" cy="1710" rx="17.3" ry="3.6" transform="rotate(-30 864.3 1710)"/>
<line x1="851" y1="1716.8" x2="877" y2="1702"/>
<line x1="880.3" y1="1698.6" x2="961.2" y2="1705.8"/>
<line x1="961.2" y1="1705.8" x2="961.2" y2="1747.2"/>
<path d="M888.8 1700.5 C890.4 1703.5 894.1 1712.9 898.2 1718.4 C902.3 1723.9 907.3 1729.1 913.3 1733.5 C919.3 1737.9 926.2 1741.7 934 1744.8 C941.8 1747.9 947.8 1749.3 960 1752.3 C972.2 1755.2 987.5 1757.9 1007.2 1762.5 C1026.9 1767.1 1066.5 1777.2 1078.4 1780.1"/>
<path d="M961.2 1707.4 C962.2 1709.7 964.3 1717.1 967.4 1721.2 C970.5 1725.3 974 1728.6 979.6 1731.9 C985.2 1735.2 991.3 1738.5 1001 1741 C1010.7 1743.5 1025 1745 1037.8 1747.2 C1050.6 1749.4 1068.9 1752.2 1077.6 1754 C1086.3 1755.8 1086.8 1755.7 1089.9 1757.9 C1093 1760.1 1094.7 1763.7 1096 1767 C1097.3 1770.3 1097.2 1776 1097.5 1777.8"/>
<line x1="1097.5" y1="1777.8" x2="1097.5" y2="1808.4"/>
<path d="M1097.5 1808.4 C1097 1810.2 1096.8 1815.8 1094.5 1819.1 C1092.2 1822.4 1087.3 1826.2 1083.7 1828.3 C1080.1 1830.3 1074.8 1830.9 1073 1831.4"/>
<path d="M1073 1831.4 L991.9 1836.8 L910.4 1841"/>
<line x1="1079.1" y1="1756.4" x2="1079.1" y2="1830.6"/>
<path d="M1001 1721 L1076 1721.5 L1076 1752.5 L1040 1747.5 L1001 1741.5Z" fill="#2a2a2a" stroke-width="2"/>
<rect x="1008" y="1727" width="4.5" height="3.2" fill="#fff" stroke="none"/>
<rect x="1008" y="1735" width="4.5" height="3.2" fill="#fff" stroke="none"/>
<rect x="1021" y="1727" width="4.5" height="3.2" fill="#fff" stroke="none"/>
<rect x="1021" y="1735" width="4.5" height="3.2" fill="#fff" stroke="none"/>
<rect x="1034" y="1727" width="4.5" height="3.2" fill="#fff" stroke="none"/>
<rect x="1034" y="1735" width="4.5" height="3.2" fill="#fff" stroke="none"/>
<rect x="1047" y="1727" width="4.5" height="3.2" fill="#fff" stroke="none"/>
<rect x="1047" y="1735" width="4.5" height="3.2" fill="#fff" stroke="none"/>
<rect x="1047" y="1743" width="4.5" height="3.2" fill="#fff" stroke="none"/>
<rect x="1060" y="1727" width="4.5" height="3.2" fill="#fff" stroke="none"/>
<rect x="1060" y="1735" width="4.5" height="3.2" fill="#fff" stroke="none"/>
<rect x="1060" y="1743" width="4.5" height="3.2" fill="#fff" stroke="none"/>
<rect x="1070" y="1727" width="4.5" height="3.2" fill="#fff" stroke="none"/>
<rect x="1070" y="1735" width="4.5" height="3.2" fill="#fff" stroke="none"/>
<rect x="1070" y="1743" width="4.5" height="3.2" fill="#fff" stroke="none"/>
<path d="M1000.3 1715.6 Q1001 1712.7 1004.5 1712.7 L1068.4 1713.2 C1084 1714 1096.8 1724 1096.8 1740 L1096.8 1762.5"/>
<path d="M1004 1720.4 L1073 1721.2 C1082 1722 1087.6 1729 1087.6 1738 L1087.6 1756.4"/>
<path d="M1104.9 1662 C1099 1740 1098.5 1840 1104.9 1915 C1111 1840 1110.5 1740 1104.9 1662Z"/>
<line x1="1104.9" y1="1664" x2="1104.9" y2="1700" stroke-width="3"/>
<line x1="1104.9" y1="1880" x2="1104.9" y2="1914" stroke-width="3"/>
<line x1="1097.5" y1="1780.1" x2="1109" y2="1780.1"/>
<line x1="1097.5" y1="1805.4" x2="1109" y2="1805.4"/>
<path d="M1086 1829.9 L1086 1846.7 L1095.2 1859.7 L1096 1820.7"/>
<path d="M671.1 1808.9 C672.2 1807.8 673.5 1804.7 677.7 1802.3 C681.9 1799.9 687.1 1798.1 696.5 1794.8 C705.9 1791.5 721.6 1786.1 734.2 1782.5 C746.8 1778.9 759.3 1775.8 771.9 1773.1 C784.5 1770.4 798 1768 809.6 1766.5 C821.2 1765 830.7 1764 841.7 1764.2 C852.7 1764.4 867.1 1765.6 875.6 1767.4 C884.1 1769.2 887.8 1771.8 892.5 1775 C897.2 1778.2 901.1 1781.6 903.9 1786.3 C906.7 1791 908.4 1796 909.5 1803.2 C910.6 1810.4 910.7 1823.8 910.4 1829.6 C910.1 1835.4 909.3 1836 907.6 1838.1 C905.9 1840.1 905.3 1840.7 900 1841.9 C894.7 1843.2 887.5 1844.7 875.6 1845.6 C863.7 1846.5 848.9 1846.7 828.5 1847.5 C808.1 1848.3 776.6 1849.4 753 1850.4 C729.4 1851.4 701.1 1852.5 687 1853.7 C672.9 1854.9 671.4 1856.9 668.3 1857.5"/>
<path d="M677.7 1803.2 C687.1 1801 715.4 1794.2 734.2 1790 C753.1 1785.8 775.1 1780.5 790.8 1777.8 C806.5 1775.1 815.9 1774.6 828.5 1774 C841.1 1773.4 855.5 1773.4 866.2 1774 C876.9 1774.6 888.1 1777.2 892.5 1777.8"/>
<path d="M687 1845.6 C693.3 1844.2 710.6 1841.1 724.8 1837.2 C738.9 1833.3 757.8 1826.1 771.9 1822 C786 1817.9 797 1814.2 809.6 1812.7 C822.2 1811.2 834.7 1811.5 847.3 1812.7 C859.9 1814 875.3 1817.1 885 1820.2 C894.7 1823.3 902.2 1829.6 905.7 1831.5" stroke-dasharray="10 6"/>
<line x1="667.9" y1="1712.8" x2="667.9" y2="1856" stroke-dasharray="12 6"/>
<line x1="671.1" y1="1808.9" x2="668.5" y2="1857"/>
<path d="M652 1737h11v-5h7v5h11v5h-11v6h-7v-6h-11z"/>
<path d="M657 1828h9v-5h7v5h9v5h-9v8h-7v-8h-9z" stroke-dasharray="5 3"/>
<circle cx="841.3" cy="1790" r="3" fill="#111"/>
<line x1="828.5" y1="1790" x2="854.8" y2="1790"/>
<line x1="841.3" y1="1776.8" x2="841.3" y2="1801.3"/>
<text x="729.3" y="1813" font-size="37" text-anchor="start" letter-spacing="2.7">c.g.</text>
<circle cx="765.1" cy="1809.3" r="3.2" stroke-width="1" fill="#111"/>
<circle cx="812.4" cy="1809.3" r="3.2" stroke-width="1" fill="#111"/>
<path d="M749.1 1776 L761 1720.5 C762.5 1713.5 770.5 1715 769.3 1722 L757 1777.6"/>
<line x1="744.7" y1="1851" x2="716.3" y2="1944"/>
<line x1="751.3" y1="1853" x2="722.9" y2="1946"/>
<path d="M879 1768 L876 1720 C875.8 1712.5 883.6 1712.5 884 1720 L887 1768"/>
<line x1="885.1" y1="1846.6" x2="902.6" y2="1953.3"/>
<line x1="892.1" y1="1845.4" x2="909.6" y2="1952.1"/>
<line x1="737.1" y1="1946.9" x2="873.1" y2="1849.7"/>
<line x1="764.3" y1="1853.6" x2="900.3" y2="1952.7"/>
<path d="M540 1973 L530 1972 L530 1938.4 L820 1951 L1134.4 1967"/>
<path d="M549 1974 L810.4 2011.1"/>
<path d="M543 1968 L811.4 2001.1 L811.4 2017 L814 2019"/>
<path d="M814 2019 C820 2019.3 839 2020.3 850 2021 C861 2021.7 868.3 2022.6 880 2023.1 C891.7 2023.6 906.6 2023.8 920 2023.8 C933.4 2023.8 943.5 2024 960.2 2023.1 C976.9 2022.1 1001.9 2020.9 1020.2 2018.1 C1038.5 2015.3 1056.3 2010.9 1070.3 2006.1 C1084.3 2001.3 1093.6 1995.6 1104.3 1989.1 C1115 1982.6 1129.4 1970.7 1134.4 1967"/>
<path d="M812.4 2006.1 C818.7 2006.4 835.4 2007.8 850 2008.1 C864.6 2008.4 881.7 2008.4 900.1 2008.1 C918.5 2007.8 940.2 2007.8 960.2 2006.1 C980.2 2004.4 1001.9 2001.4 1020.2 1998.1 C1038.5 1994.8 1055.3 1990.1 1070.3 1986.1 C1085.3 1982.1 1099.7 1977.3 1110.4 1974.1 C1121.1 1970.9 1130.4 1968.2 1134.4 1967"/>
</g>
</svg>
</body></html>
